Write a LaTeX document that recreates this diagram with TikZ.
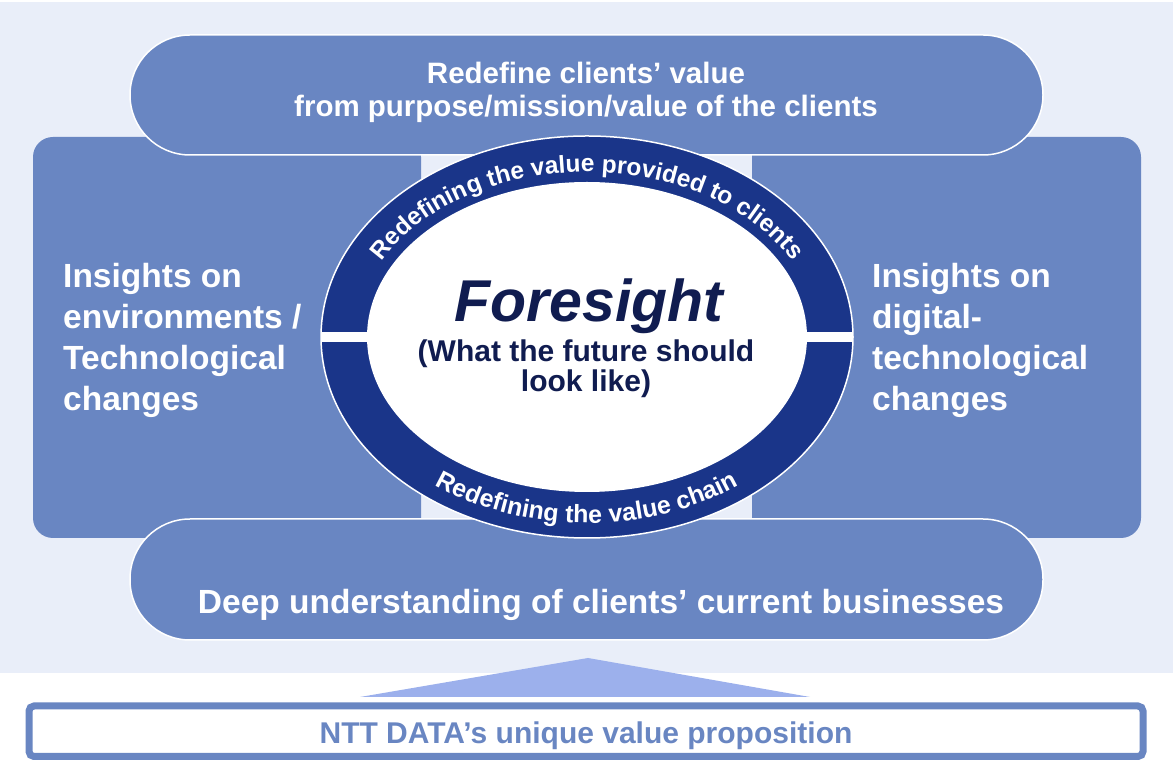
\documentclass[tikz,border=0pt]{standalone}
\usepackage{fontspec}
\setmainfont{Liberation Sans}
\usetikzlibrary{decorations.text,calc}
\definecolor{bgc}{HTML}{E9EEF9}
\definecolor{boxc}{HTML}{6986C2}
\definecolor{navy}{HTML}{1A3589}
\definecolor{darktxt}{HTML}{101C50}
\definecolor{tric}{HTML}{9CB0EC}
\newcommand{\ringfont}{\fontsize{24.5}{25}\selectfont\bfseries\color{white}}
\newcommand{\ringfontb}{\fontsize{25}{25}\selectfont\bfseries\color{white}}
\begin{document}
\begin{tikzpicture}[x=1pt,y=1pt,
  sidebox/.style={fill=boxc, rounded corners=20pt},
  pill/.style={fill=boxc, draw=white, line width=1.5pt, rounded corners=60pt},
  sidetxt/.style={text=white, font=\fontsize{33.5}{41}\selectfont\bfseries, align=left, inner sep=0pt, anchor=base west},
  pilltxt/.style={text=white, font=\fontsize{29.5}{33}\selectfont\bfseries, align=center, inner sep=0pt, anchor=base},
  ringtext/.style={decorate, decoration={text along path, text align=center, text={|\ringfont|#1}}},
  ringtextb/.style={decorate, decoration={text along path, text align=center, text={|\ringfontb|#1}}}
]
\useasboundingbox (0,0) rectangle (1173,760);
% background
\fill[bgc] (0,87) rectangle (1173,758);
% side boxes
\fill[sidebox] (33,222) rectangle (421,623);
\fill[sidebox] (752,222) rectangle (1141,623);
% pills
\path[pill] (130,605) rectangle (1043,725);
\path[pill] (130,120) rectangle (1043,241);
% ring
\path[fill=navy, draw=white, line width=1.5pt] (587,423) ellipse [x radius=266, y radius=201];
\fill[white] (587,423) ellipse [x radius=220, y radius=155];
\begin{scope}
  \clip (587,423) ellipse [x radius=266, y radius=201];
  \fill[white] (300,418) rectangle (880,428);
\end{scope}
\path[ringtext={Redefining the value provided to clients}]
  (587,423) ++(170:231pt and 165pt) arc[start angle=170, end angle=10, x radius=231pt, y radius=165pt];
\path[ringtextb={Redefining the value chain}]
  (587,423) ++(200:251pt and 186pt) arc[start angle=200, end angle=340, x radius=251pt, y radius=186pt];
% texts
\node[pilltxt] (valtxt) at (586,643) {Redefine clients’ value\\from purpose/mission/value of the clients};
\node[sidetxt] (envtxt) at (63,349) {Insights on\\environments /\\Technological\\changes};
\node[sidetxt] (digtxt) at (872,349) {Insights on\\digital-\\technological\\changes};
\node[anchor=base, inner sep=0pt, text=darktxt, font=\fontsize{59}{59}\selectfont\bfseries\itshape] (fore) at (589,438) {Foresight};
\node[anchor=base, inner sep=0pt, text=darktxt, align=center, font=\fontsize{30}{30}\selectfont\bfseries] (what) at (586,368) {(What the future should\\look like)};
\node[anchor=base, inner sep=0pt, text=white, font=\fontsize{33.5}{36}\selectfont\bfseries] (deep) at (601,146) {Deep understanding of clients’ current businesses};
% arrow triangle and bottom box
\fill[tric] (360,63) -- (588,102) -- (810,63) -- cycle;
\draw[boxc, line width=7pt, rounded corners=5pt] (29,54) rectangle (1143,3.5);
\node[anchor=base, inner sep=0pt, text=boxc, font=\fontsize{30}{32}\selectfont\bfseries] (ntt) at (586,16) {NTT DATA’s unique value proposition};
\end{tikzpicture}
\end{document}
